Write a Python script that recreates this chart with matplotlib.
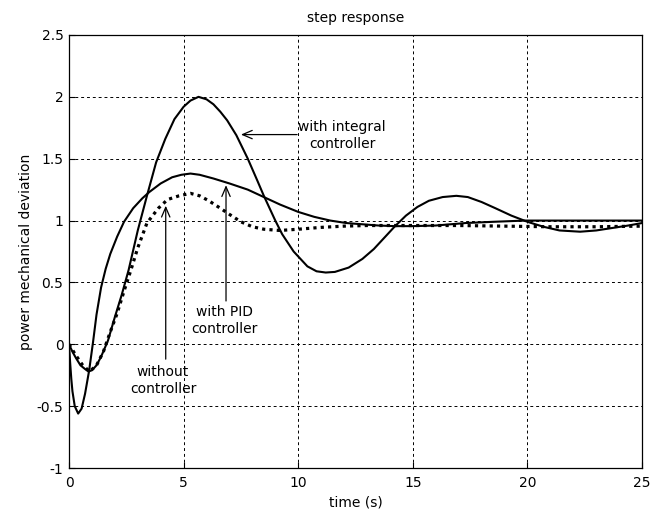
import matplotlib
matplotlib.use("Agg")
import matplotlib.pyplot as plt

# ---- data ----
t_int = [0, 0.15, 0.3, 0.5, 0.7, 0.85, 1.0, 1.2, 1.4, 1.7, 2.0, 2.3, 2.6, 3.0, 3.4, 3.8, 4.2,
         4.6, 5.0, 5.3, 5.65, 6.0, 6.3, 6.6, 6.9, 7.3, 7.8, 8.2, 8.5, 9.0, 9.3, 9.8, 10.4, 10.8,
         11.2, 11.6, 12.2, 12.8, 13.3, 13.8, 14.2, 14.7, 15.2, 15.7, 16.3, 16.9, 17.4, 18.0,
         18.6, 19.3, 20.0, 20.7, 21.4, 22.3, 23.0, 23.7, 24.4, 25.0]
v_int = [0, -0.06, -0.11, -0.17, -0.2, -0.22, -0.21, -0.17, -0.1, 0.03, 0.22, 0.4, 0.6, 0.92,
         1.2, 1.47, 1.66, 1.82, 1.92, 1.97, 2.0, 1.98, 1.94, 1.88, 1.81, 1.69, 1.5, 1.33, 1.2,
         1.0, 0.89, 0.75, 0.63, 0.59, 0.58, 0.585, 0.62, 0.69, 0.77, 0.87, 0.95, 1.04, 1.11,
         1.16, 1.19, 1.2, 1.19, 1.15, 1.1, 1.04, 0.99, 0.95, 0.92, 0.91, 0.92, 0.94, 0.96, 0.98]

t_pid = [0, 0.05, 0.1, 0.15, 0.25, 0.4, 0.55, 0.7, 0.88, 1.05, 1.2, 1.4, 1.6, 1.8, 2.1, 2.4,
         2.8, 3.2, 3.5, 4.0, 4.5, 4.9, 5.3, 5.7, 6.3, 7.0, 7.8, 8.5, 9.2, 10.0, 10.7, 11.4,
         12.1, 12.8, 13.5, 14.2, 15.0, 16.0, 17.3, 18.5, 19.9, 21.0, 22.5, 24.0, 25.0]
v_pid = [0, -0.15, -0.28, -0.38, -0.5, -0.56, -0.52, -0.4, -0.21, 0.02, 0.24, 0.46, 0.61,
         0.73, 0.87, 0.99, 1.1, 1.18, 1.23, 1.3, 1.35, 1.37, 1.38, 1.37, 1.34, 1.3, 1.25,
         1.19, 1.13, 1.07, 1.03, 1.0, 0.98, 0.97, 0.96, 0.955, 0.955, 0.96, 0.98, 0.99, 1.0,
         1.0, 1.0, 1.0, 1.0]

t_wo = [0, 0.3, 0.6, 0.9, 1.2, 1.5, 1.8, 2.1, 2.4, 2.7, 3.0, 3.4, 3.9, 4.3, 4.8, 5.3, 5.7,
        6.1, 6.6, 7.0, 7.5, 8.0, 8.5, 9.2, 10.0, 11.0, 12.0, 13.0, 15.0, 17.0, 19.0, 21.0,
        23.0, 25.0]
v_wo = [0, -0.09, -0.17, -0.22, -0.17, -0.06, 0.1, 0.25, 0.43, 0.6, 0.78, 0.98, 1.1, 1.17,
        1.2, 1.22, 1.2, 1.16, 1.1, 1.05, 0.99, 0.95, 0.93, 0.92, 0.93, 0.945, 0.955, 0.96,
        0.96, 0.96, 0.955, 0.95, 0.95, 0.955]

x_ticks = [0, 5, 10, 15, 20, 25]
y_ticks = [-1, -0.5, 0, 0.5, 1, 1.5, 2, 2.5]
y_tick_labels = ["-1", "-0.5", "0", "0.5", "1", "1.5", "2", "2.5"]

title_text = "step response"
x_label = "time (s)"
y_label = "power mechanical deviation"

plt.rcParams['font.family'] = ['DejaVu Sans']
plt.rcParams['font.size'] = 10

fig = plt.figure(figsize=(6.61, 5.13), dpi=100)
ax = fig.add_axes([0.1044, 0.0877, 0.8669, 0.8441])

ax.plot(t_int, v_int, color='black', lw=1.5, solid_joinstyle='round')
ax.plot(t_pid, v_pid, color='black', lw=1.5, solid_joinstyle='round')
ax.plot(t_wo, v_wo, color='black', lw=2.3, linestyle=(0, (1, 1.3)))

ax.set_xlim(0, 25)
ax.set_ylim(-1, 2.5)
ax.set_xticks(x_ticks)
ax.set_xticklabels([str(v) for v in x_ticks])
ax.set_yticks(y_ticks)
ax.set_yticklabels(y_tick_labels)
ax.tick_params(direction='in', length=4, width=0.8, colors='black', labelsize=10)
ax.tick_params(axis='x', pad=5.5)
ax.tick_params(axis='y', pad=4)
ax.grid(True, color='black', linestyle=(0, (3, 3)), linewidth=0.7)
for s in ax.spines.values():
    s.set_linewidth(0.9)
    s.set_color('black')

ax.set_title(title_text, fontsize=10, pad=9.5)
ax.set_xlabel(x_label, fontsize=10, labelpad=4)
ax.set_ylabel(y_label, fontsize=10, labelpad=3)

arrow = dict(arrowstyle='->,head_length=0.7,head_width=0.3', lw=0.9, color='black',
             shrinkA=0, shrinkB=0, mutation_scale=10)

ax.annotate('', xy=(7.5, 1.695), xytext=(9.95, 1.695), arrowprops=arrow)
ax.text(10.0, 1.69, "with integral\ncontroller", ha='left', va='center',
        multialignment='center', fontsize=10, linespacing=1.3)

ax.annotate('', xy=(6.85, 1.286), xytext=(6.85, 0.35), arrowprops=arrow)
ax.text(6.8, 0.195, "with PID\ncontroller", ha='center', va='center',
        multialignment='center', fontsize=10, linespacing=1.3)

ax.annotate('', xy=(4.22, 1.12), xytext=(4.22, -0.12), arrowprops=arrow)
ax.text(4.1, -0.295, "without\ncontroller", ha='center', va='center',
        multialignment='center', fontsize=10, linespacing=1.3)

fig.savefig("out.png", dpi=100)
